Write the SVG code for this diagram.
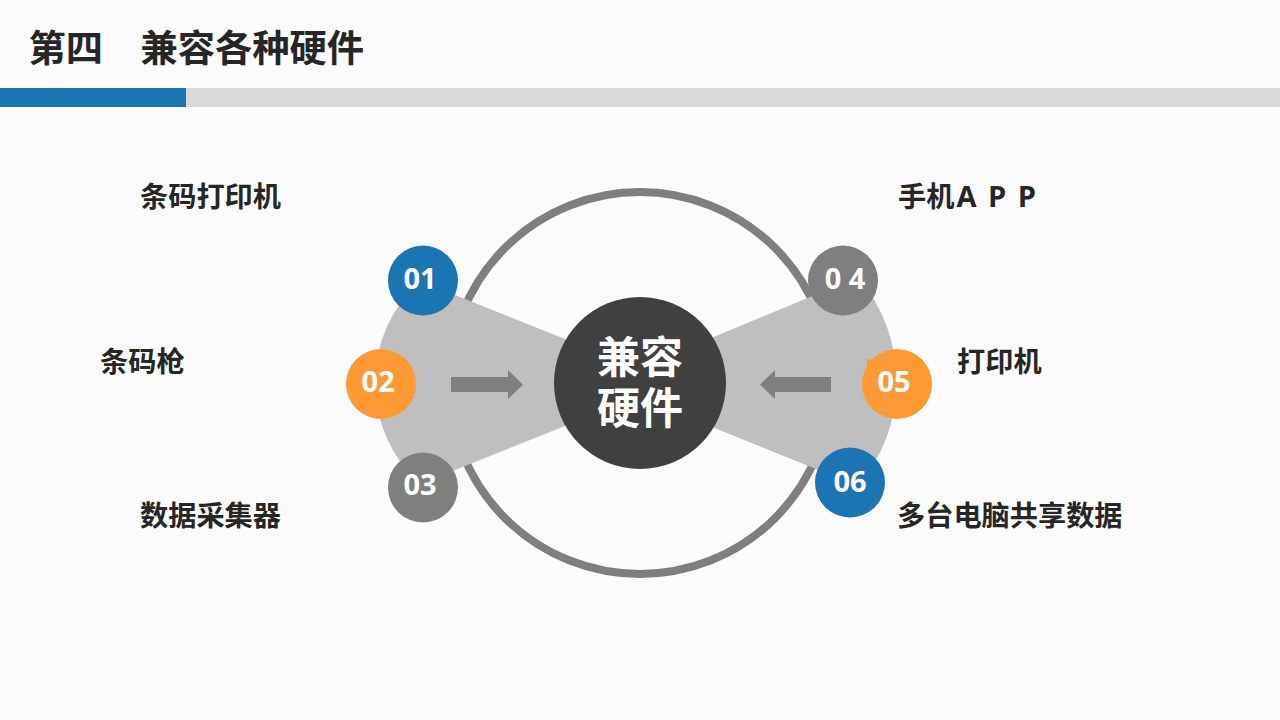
<svg xmlns="http://www.w3.org/2000/svg" width="1280" height="720" viewBox="0 0 1280 720">
<defs><style>
text{font-family:"Noto Sans CJK SC","Microsoft YaHei",sans-serif;font-weight:700;fill:#262626}
.lbl{font-size:28.2px}
.lat{font-family:"Open Sans","Noto Sans",sans-serif;letter-spacing:2px;font-size:29px}
.num{font-family:"Open Sans","Noto Sans",sans-serif;font-size:29px;fill:#fff;text-anchor:middle}
.hub{font-size:43px;fill:#fff;text-anchor:middle}
.fan{fill:#bfbfbf}
.arrow{fill:#7f7f7f}
</style></defs>
<rect width="1280" height="720" fill="#fbfbfb"/>
<rect y="88" width="1280" height="19" fill="#d9d9d9"/>
<rect y="88" width="186" height="19" fill="#1c75b3"/>
<text x="28.500" y="62" font-size="37.300">第四　兼容各种硬件</text>
<g id="ring"><circle cx="640" cy="383" r="191" fill="none" stroke="#7f7f7f" stroke-width="8"/></g>
<g id="fans">
<path class="fan" d="M600 353L420 281A137 137 0 0 0 420 484L600 412Z"/>
<path class="fan" d="M680 351L858 277A161 161 0 0 1 858 486L680 414Z"/>
</g>
<g id="connectors">
<path class="arrow" d="M451 377H508V370L523 384.700L508 399V392H451Z"/>
<path class="arrow" d="M831 377H775V370L760 384.700L775 399V392H831Z"/>
</g>
<g id="center"><circle cx="640" cy="383" r="86" fill="#404040"/>
<text class="hub" x="640" y="373">兼容</text>
<text class="hub" x="640" y="424">硬件</text></g>
<g id="n01"><circle cx="423" cy="280.500" r="35" fill="#1c75b3"/><text class="num" x="420" y="289">01</text></g>
<g id="n02"><circle cx="381" cy="384" r="35" fill="#ff9933"/><text class="num" x="378" y="392">02</text></g>
<g id="n03"><circle cx="423" cy="487.500" r="35" fill="#7f7f7f"/><text class="num" x="420" y="495">03</text></g>
<g id="n04"><circle cx="843" cy="280.500" r="35" fill="#7f7f7f"/><text class="num" x="845" y="289" xml:space="preserve">0 4</text></g>
<g id="n05"><rect x="867" y="359.500" width="10" height="44" fill="#ff9933"/><circle cx="897" cy="384" r="35" fill="#ff9933"/><text class="num" x="894" y="392">05</text></g>
<g id="n06"><circle cx="850" cy="482.500" r="35" fill="#1c75b3"/><text class="num" x="850" y="492">06</text></g>
<g id="labels">
<text class="lbl" x="140" y="207">条码打印机</text>
<text class="lbl" x="100" y="372">条码枪</text>
<text class="lbl" x="140" y="526">数据采集器</text>
<text class="lbl" x="898" y="207">手机<tspan class="lat" dx="2">A P P</tspan></text>
<text class="lbl" x="957" y="372">打印机</text>
<text class="lbl" x="897" y="526">多台电脑共享数据</text>
</g>
</svg>
